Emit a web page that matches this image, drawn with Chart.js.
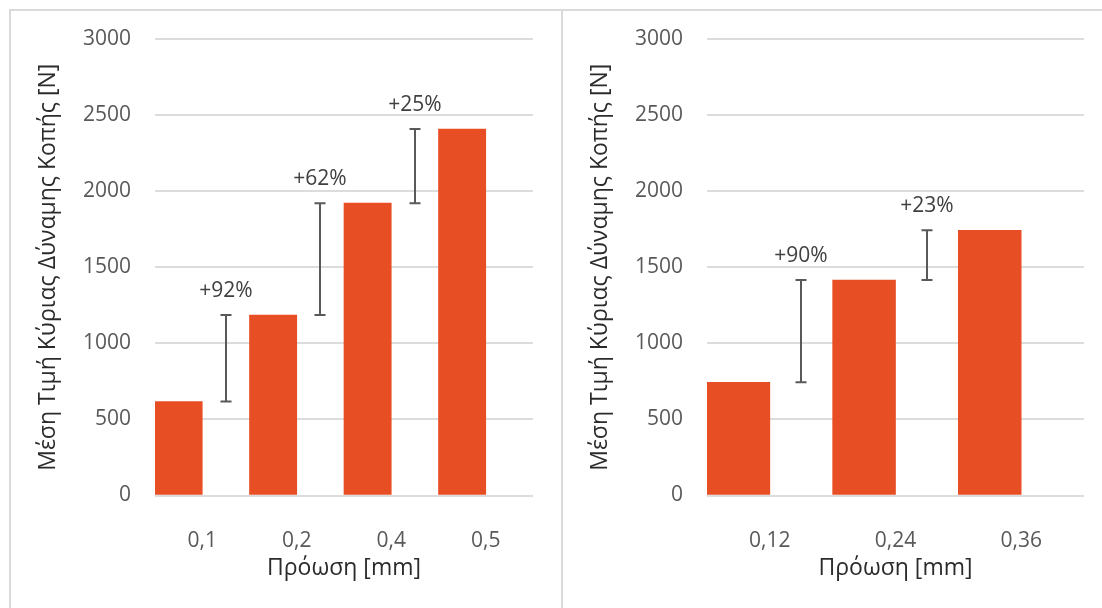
<!DOCTYPE html>
<html lang="el">
<head>
<meta charset="UTF-8">
<title>Μέση Τιμή Κύριας Δύναμης Κοπής</title>
<script src="https://cdn.jsdelivr.net/npm/chart.js@4.4.0/dist/chart.umd.min.js"></script>
<style>
    html, body { margin: 0; padding: 0; background: #ffffff; }
    body { width: 1102px; height: 608px; position: relative; overflow: hidden; }
    .frame { position: absolute; left: 9px; top: 9px; width: 1200px; height: 700px;
             border-top: 2px solid #d9d9d9; border-left: 2px solid #d9d9d9; }
    .divider { position: absolute; left: 561px; top: 9px; width: 0; height: 700px;
               border-left: 2px solid #d9d9d9; }
    canvas { position: absolute; }
    #chartLeft { left: 11px; top: 11px; }
    #chartRight { left: 563px; top: 11px; }
</style>
</head>
<body>
<div class="frame"></div>
<div class="divider"></div>
<canvas id="chartLeft" width="549" height="597"></canvas>
<canvas id="chartRight" width="539" height="597"></canvas>

<script>
// --- Data ---
const feedsLeft = ['0,1', '0,2', '0,4', '0,5'];
const forceLeft = [618, 1186, 1921, 2408];

const feedsRight = ['0,12', '0,24', '0,36'];
const forceRight = [744, 1416, 1743];

const yMin = 0;
const yMax = 3000;
const yStep = 500;

const xTitle = 'Πρόωση [mm]';
const yTitle = 'Μέση Τιμή Κύριας Δύναμης Κοπής [N]';

document.addEventListener('DOMContentLoaded', () => {

    const FONT = "'Open Sans', 'Noto Sans', sans-serif";
    const BAR_COLOR = '#E84E24';
    const GRID_COLOR = '#dcdcdc';
    const TICK_COLOR = '#595959';
    const TITLE_COLOR = '#2b2b2b';
    const STEP_COLOR = '#595959';

    // Draws the "step" bracket between consecutive bars and its % label.
    // The bracket sits in the slot of the hidden second dataset.
    const stepBrackets = {
        id: 'stepBrackets',
        afterDatasetsDraw(chart) {
            const { ctx, scales: { y } } = chart;
            const values = chart.data.datasets[0].data;
            const meta = chart.getDatasetMeta(1);
            ctx.save();
            ctx.strokeStyle = STEP_COLOR;
            ctx.lineWidth = 2;
            ctx.fillStyle = '#404040';
            ctx.font = `21px ${FONT}`;
            ctx.textAlign = 'center';
            ctx.textBaseline = 'middle';
            for (let i = 0; i < values.length - 1; i++) {
                const x = Math.round(meta.data[i].x);
                const yLow = y.getPixelForValue(values[i]);
                const yHigh = y.getPixelForValue(values[i + 1]);
                ctx.beginPath();
                ctx.moveTo(x, yLow);
                ctx.lineTo(x, yHigh);
                ctx.moveTo(x - 5.5, yLow);
                ctx.lineTo(x + 5.5, yLow);
                ctx.moveTo(x - 5.5, yHigh);
                ctx.lineTo(x + 5.5, yHigh);
                ctx.stroke();

                const pct = Math.round((values[i + 1] / values[i] - 1) * 100);
                ctx.fillText(`+${pct}%`, x, yHigh - 24);
            }
            ctx.restore();
        }
    };

    function buildChart(canvasId, labels, values, rightPad) {
        const ctx = document.getElementById(canvasId).getContext('2d');
        // second (invisible) series only reserves the slot for the bracket
        const slots = values.map((v, i) => (i < values.length - 1 ? v : null));

        return new Chart(ctx, {
            type: 'bar',
            data: {
                labels: labels,
                datasets: [{
                    data: values,
                    backgroundColor: BAR_COLOR,
                    borderWidth: 0
                }, {
                    data: slots,
                    backgroundColor: 'rgba(0,0,0,0)',
                    borderWidth: 0
                }]
            },
            options: {
                responsive: false,
                animation: false,
                devicePixelRatio: 1,
                categoryPercentage: 1.0,
                barPercentage: 1.0,
                layout: {
                    padding: { left: 0, right: rightPad, top: 28, bottom: 0 }
                },
                plugins: {
                    legend: { display: false },
                    tooltip: { enabled: false }
                },
                scales: {
                    x: {
                        grid: { display: false },
                        border: { display: false },
                        ticks: {
                            color: TICK_COLOR,
                            font: { family: FONT, size: 21 },
                            padding: 25
                        },
                        title: {
                            display: true,
                            text: xTitle,
                            color: TITLE_COLOR,
                            font: { family: FONT, size: 23 },
                            padding: { top: 0, bottom: 26 }
                        },
                        afterFit: scale => {
                            scale.height = 112.5;
                            scale.paddingLeft = 0;
                            scale.paddingRight = 0;
                        }
                    },
                    y: {
                        min: yMin,
                        max: yMax,
                        grid: {
                            color: GRID_COLOR,
                            lineWidth: 2,
                            drawTicks: false
                        },
                        border: { display: false },
                        ticks: {
                            stepSize: yStep,
                            color: TICK_COLOR,
                            font: { family: FONT, size: 21 },
                            padding: 24,
                            callback: value => String(value)
                        },
                        title: {
                            display: true,
                            text: yTitle,
                            color: TITLE_COLOR,
                            font: { family: FONT, size: 23 },
                            padding: { top: 24, bottom: 0 }
                        },
                        afterFit: scale => {
                            scale.width = 144;
                            scale.paddingTop = 0;
                            scale.paddingBottom = 0;
                        }
                    }
                }
            },
            plugins: [stepBrackets]
        });
    }

    buildChart('chartLeft', feedsLeft, forceLeft, 27);
    buildChart('chartRight', feedsRight, forceRight, 18);
});
</script>
</body>
</html>
